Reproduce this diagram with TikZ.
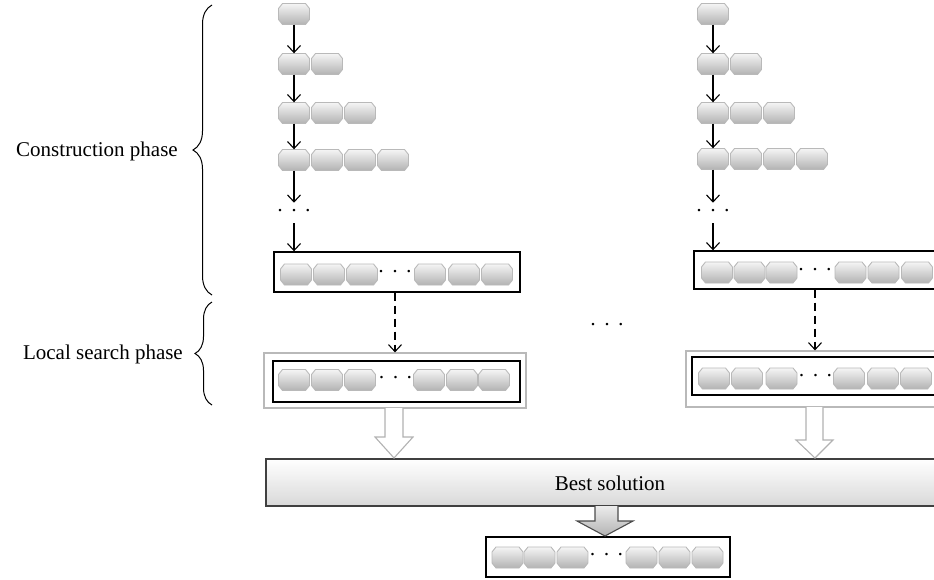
\documentclass[tikz,border=0pt]{standalone}
\usepackage{fontspec}
\setmainfont{Liberation Serif}
\usetikzlibrary{arrows.meta,decorations.pathreplacing,calc}
\begin{document}
\begin{tikzpicture}[x=1pt,y=-1pt,
  every node/.style={font=\fontsize{21}{25}\selectfont},
  chipshape/.style={draw=gray!55, line width=0.9pt, top color=gray!8, bottom color=gray!60},
  chip/.pic={
    \path[chipshape] (-15.5,-5.5) -- (-11.5,-10.5) -- (11.5,-10.5) -- (15.5,-5.5)
      -- (15.5,5.5) -- (11.5,10.5) -- (-11.5,10.5) -- (-15.5,5.5) -- cycle;
    \node[inner sep=0pt, minimum width=31pt, minimum height=21pt] (-n) at (0,0) {};
  },
  dotsn/.style={inner sep=0pt},
  blackbox/.style={rectangle, draw=black, line width=1.4pt, inner sep=0pt, fill=white},
  graybox/.style={rectangle, draw=gray!55, line width=1.2pt, inner sep=0pt, fill=white},
  arr/.style={line width=1.1pt, -{Straight Barb[length=7pt,width=13pt]}},
  darr/.style={arr, dash pattern=on 8pt off 5pt},
  hollow/.style={draw=gray!60, line width=1.1pt, fill=white},
  solidarr/.style={draw=black!70, line width=1.1pt, top color=gray!15, bottom color=gray!60},
  bestbox/.style={rectangle, draw=black!75, line width=1.4pt, inner sep=0pt, top color=white, bottom color=gray!30},
  bracestyle/.style={line width=1pt, decorate, decoration={brace, amplitude=19pt}},
  lbl/.style={anchor=east, inner sep=0pt}
]
\clip (0,0) rectangle (934,579);
\newcommand{\threedots}{\textperiodcentered\hspace{7pt}\textperiodcentered\hspace{7pt}\textperiodcentered}

% ---------- left column ----------
\pic (La1) at (294,14) {chip};
\foreach \i in {1,2} \pic (Lb\i) at ({294+33*(\i-1)},64) {chip};
\foreach \i in {1,2,3} \pic (Lc\i) at ({294+33*(\i-1)},113) {chip};
\foreach \i in {1,2,3,4} \pic (Ld\i) at ({294+33*(\i-1)},160) {chip};
\node[dotsn] (Ldots) at (294,213) {\threedots};
\node[blackbox, minimum width=246pt, minimum height=40pt] (L1) at (397,272) {};
\foreach \n/\x in {1/296,2/329,3/362,4/430,5/464,6/497}
  \pic (Le\n) at (\x,274.5) {chip};
\node[dotsn] (Le0) at (395,274) {\threedots};
\node[graybox, minimum width=262pt, minimum height=55pt] (LO) at (395,380.5) {};
\node[blackbox, minimum width=247pt, minimum height=41pt] (LI) at (396.5,381.5) {};
\foreach \n/\x in {1/294,2/327,3/360,4/429,5/462,6/494}
  \pic (Lf\n) at (\x,380) {chip};
\node[dotsn] (Lf0) at (395.5,380) {\threedots};

\draw[arr] (La1-n.south) -- (Lb1-n.north);
\draw[arr] (Lb1-n.south) -- (Lc1-n.north);
\draw[arr] (Lc1-n.south) -- (Ld1-n.north);
\draw[arr] (Ld1-n.south) -- ($(Ldots.north)+(0,-6)$);
\draw[arr] ($(Ldots.south)+(0,6)$) -- (Ldots.south |- L1.north);
\draw[darr] (LO.north |- L1.south) -- (LO.north);

% ---------- right column ----------
\pic (Ra1) at (713,14) {chip};
\foreach \i in {1,2} \pic (Rb\i) at ({713+33*(\i-1)},64) {chip};
\foreach \i in {1,2,3} \pic (Rc\i) at ({713+33*(\i-1)},113) {chip};
\foreach \i in {1,2,3,4} \pic (Rd\i) at ({713+33*(\i-1)},159) {chip};
\node[dotsn] (Rdots) at (713,213) {\threedots};
\node[blackbox, minimum width=252pt, minimum height=38pt] (R1) at (820,270) {};
\foreach \n/\x in {1/717,2/749.5,3/781.5,4/850.5,5/883.5,6/917}
  \pic (Re\n) at (\x,272.5) {chip};
\node[dotsn] (Re0) at (815,272) {\threedots};
\node[graybox, minimum width=264pt, minimum height=56pt] (RO) at (818,379) {};
\node[blackbox, minimum width=253pt, minimum height=38pt] (RI) at (818.5,376) {};
\foreach \n/\x in {1/714,2/747,3/781.5,4/849,5/883,6/916}
  \pic (Rf\n) at (\x,378.5) {chip};
\node[dotsn] (Rf0) at (815.5,378) {\threedots};
\coordinate (Rdash) at (815,0);

\draw[arr] (Ra1-n.south) -- (Rb1-n.north);
\draw[arr] (Rb1-n.south) -- (Rc1-n.north);
\draw[arr] (Rc1-n.south) -- (Rd1-n.north);
\draw[arr] (Rd1-n.south) -- ($(Rdots.north)+(0,-6)$);
\draw[arr] ($(Rdots.south)+(0,6)$) -- (Rdots.south |- R1.north);
\draw[darr] (Rdash |- R1.south) -- (Rdash |- RO.north);

% ---------- middle dots ----------
\node[dotsn] (Mdots) at (607,327) {\threedots};

% ---------- best solution ----------
\node[bestbox, minimum width=684pt, minimum height=47pt] (best) at (608,482.5) {};
\node[inner sep=0pt] (btxt) at (610,483) {Best solution};

\draw[hollow] (385,408) -- (385,437) -- (375,437) -- (394,458) -- (413,437) -- (403,437) -- (403,408);
\draw[hollow] (806,407) -- (806,440) -- (796,440) -- (815,458) -- (833,440) -- (823,440) -- (823,407);

\node[blackbox, minimum width=244pt, minimum height=40pt] (F) at (608,557) {};
\foreach \n/\x in {1/507.5,2/539.5,3/572.5,4/641.5,5/674.5,6/707.5}
  \pic (Fc\n) at (\x,557.5) {chip};
\node[dotsn] (F0) at (606.5,557) {\threedots};

\draw[solidarr] (595,506) -- (595,521) -- (577,521) -- (605,536) -- (633,521) -- (618,521) -- (618,506);

% ---------- braces and labels ----------
\coordinate (cb1) at (212,295);
\coordinate (cb2) at (212,5);
\coordinate (lb1) at (212,405);
\coordinate (lb2) at (212,302);
\draw[bracestyle] (cb1) -- (cb2);
\draw[bracestyle, decoration={brace, amplitude=17pt}] (lb1) -- (lb2);
\node[lbl] (tcons) at (178,151) {Construction phase};
\node[lbl] (tloc) at (183,354) {Local search phase};
\end{tikzpicture}
\end{document}
